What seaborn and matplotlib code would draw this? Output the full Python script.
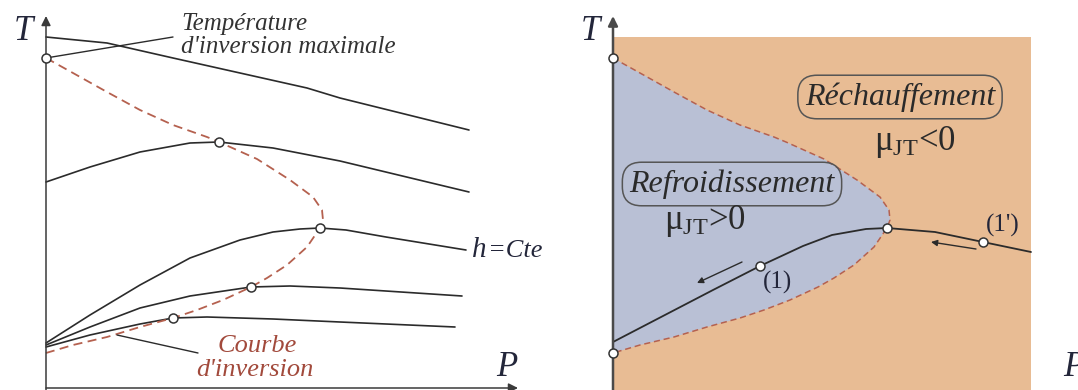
import matplotlib
matplotlib.use("Agg")
import matplotlib.pyplot as plt
import seaborn as sns
import pandas as pd
from matplotlib.patches import Rectangle

sns.set_style("white")
plt.rcParams["font.family"] = ["Liberation Serif", "DejaVu Serif"]
plt.rcParams["mathtext.fontset"] = "custom"
plt.rcParams["mathtext.rm"] = "Liberation Serif"
plt.rcParams["mathtext.it"] = "Liberation Serif:italic"

# Inversion curve (P, T): from the maximum inversion temperature round the nose back to the T axis
inv_p = [0, 27, 61, 94, 127, 161, 173, 211, 244, 267, 276, 277, 274, 261, 241, 221,
         205, 177, 151, 127, 94, 61, 27, 0]
inv_t = [330, 315, 296, 278, 263, 251, 246, 229, 208, 191, 178, 168, 160, 141, 123, 110,
         101, 88, 78, 70, 61, 51, 43, 35]

# Isenthalps h = Cte (left diagram)
h1_p = [0, 61, 127, 194, 261, 294, 423]
h1_t = [351, 345, 330, 315, 300, 290, 258]
h2_p = [0, 44, 94, 144, 173, 227, 294, 423]
h2_t = [206, 221, 236, 245, 246, 240, 227, 196]
h3_p = [0, 44, 94, 144, 194, 227, 254, 274, 300, 340, 420]
h3_t = [45, 73, 103, 130, 148, 156, 159, 160, 158, 151, 138]
h4_p = [0, 44, 94, 144, 205, 244, 294, 416]
h4_t = [43, 61, 80, 92, 101, 102, 100, 92]
h5_p = [0, 44, 94, 127, 161, 227, 294, 409]
h5_t = [41, 53, 64, 70, 71, 69, 66, 61]

# Points where the isenthalps cross the inversion curve
max_p = [0, 173, 274, 205, 127]
max_t = [330, 246, 160, 101, 70]

# Isenthalp on the right diagram, with states (1) and (1')
rh_p = [0, 50, 100, 147, 190, 219, 253, 274, 322, 370, 418]
rh_t = [46, 72, 98, 122, 142, 153, 159, 160, 156, 146, 136]
pts_p = [0, 0, 274, 147, 370]
pts_t = [330, 35, 160, 122, 146]
pts_lab = ["", "", "", "(1)", "(1')"]

CURVE = "#2b2b2b"
INV = "#b5614f"
AXIS = "#3a3a3a"
ORANGE = "#e8bc94"
BLUE = "#b9c0d5"

fig = plt.figure(figsize=(10.78, 3.9), dpi=100)
axL = fig.add_axes([0, 0, 540 / 1078, 1])
axR = fig.add_axes([540 / 1078, 0, 538 / 1078, 1])
axL.set_xlim(-46, 494)
axR.set_xlim(-73, 465)
for ax in (axL, axR):
    ax.set_ylim(-2, 388)
    ax.set_axis_off()


def line(ax, p, t, **kw):
    df = pd.DataFrame({"P": p, "T": t})
    sns.lineplot(data=df, x="P", y="T", sort=False, estimator=None, ax=ax, **kw)


def dots(ax, p, t):
    df = pd.DataFrame({"P": p, "T": t})
    sns.scatterplot(data=df, x="P", y="T", ax=ax, s=42, color="white",
                    edgecolor="#333333", linewidth=1.1, zorder=6, clip_on=False)


def axes_arrows(ax, lw, color):
    ax.annotate("", xy=(0, 372), xytext=(0, -4),
                arrowprops=dict(arrowstyle="-|>", color=color, lw=lw,
                                mutation_scale=14, shrinkA=0, shrinkB=0), zorder=5)
    ax.annotate("", xy=(472, 0), xytext=(0, 0),
                arrowprops=dict(arrowstyle="-|>", color=color, lw=lw,
                                mutation_scale=14, shrinkA=0, shrinkB=0), zorder=5)
    ax.text(-23, 357, "T", fontsize=25, style="italic", color="#23263a",
            ha="center", va="center")
    ax.text(461, 20, "P", fontsize=25, style="italic", color="#23263a",
            ha="center", va="center", clip_on=False)


# ---------- left diagram ----------
for p, t in [(h1_p, h1_t), (h2_p, h2_t), (h3_p, h3_t), (h4_p, h4_t), (h5_p, h5_t)]:
    line(axL, p, t, color=CURVE, linewidth=1.2)
line(axL, inv_p, inv_t, color=INV, linewidth=1.3, dashes=(5, 3))
dots(axL, max_p, max_t)
axes_arrows(axL, 1.1, AXIS)

axL.plot([0, 127], [330, 351], color=CURVE, lw=1.0)
axL.text(135, 364, "Température", fontsize=18, style="italic", color="#333333",
         ha="left", va="center")
axL.text(135, 341, "d'inversion maximale", fontsize=18, style="italic",
         color="#333333", ha="left", va="center")
axL.text(426, 138, "h", fontsize=21, style="italic", color="#23263a",
         ha="left", va="center")
axL.text(442, 137, "=Cte", fontsize=19, style="italic", color="#23263a",
         ha="left", va="center")
axL.plot([71, 152], [53, 35], color=CURVE, lw=1.0)
axL.text(211, 42, "Courbe", fontsize=19, style="italic", color="#a24a3c",
         ha="center", va="center")
axL.text(209, 18, "d'inversion", fontsize=19, style="italic", color="#a24a3c",
         ha="center", va="center")

# ---------- right diagram ----------
axR.add_patch(Rectangle((0, -2), 418, 353, facecolor=ORANGE, edgecolor="none", zorder=0))
axR.fill(inv_p, inv_t, color=BLUE, zorder=1, linewidth=0)
line(axR, inv_p, inv_t, color=INV, linewidth=1.1, dashes=(4, 2.5))
line(axR, rh_p, rh_t, color=CURVE, linewidth=1.3)
dots(axR, pts_p, pts_t)
axes_arrows(axR, 1.8, "#4a4a4a")

axR.text(165, 106, pts_lab[3], fontsize=18, color="#23263a", ha="center", va="center")
axR.text(390, 163, pts_lab[4], fontsize=18, color="#23263a", ha="center", va="center")
axR.annotate("", xy=(84, 105), xytext=(129, 126),
             arrowprops=dict(arrowstyle="-|>", color=CURVE, lw=1.0, mutation_scale=9,
                             shrinkA=0, shrinkB=0))
axR.annotate("", xy=(318, 146), xytext=(363, 139),
             arrowprops=dict(arrowstyle="-|>", color=CURVE, lw=1.0, mutation_scale=9,
                             shrinkA=0, shrinkB=0))

box = dict(boxstyle="round,pad=0.22,rounding_size=0.6", facecolor="none",
           edgecolor="#555555", linewidth=1.1)
axR.text(287, 291, "Réchauffement", fontsize=23, style="italic", color="#2a2a2a",
         ha="center", va="center", bbox=box)
axR.text(119, 204, "Refroidissement", fontsize=23, style="italic", color="#2a2a2a",
         ha="center", va="center", bbox=box)
axR.text(302, 246, r"μ$_{\mathrm{JT}}$<0", fontsize=25, color="#2a2a2a",
         ha="center", va="center")
axR.text(92, 167, r"μ$_{\mathrm{JT}}$>0", fontsize=25, color="#2a2a2a",
         ha="center", va="center")

fig.savefig("out.png", dpi=100)
